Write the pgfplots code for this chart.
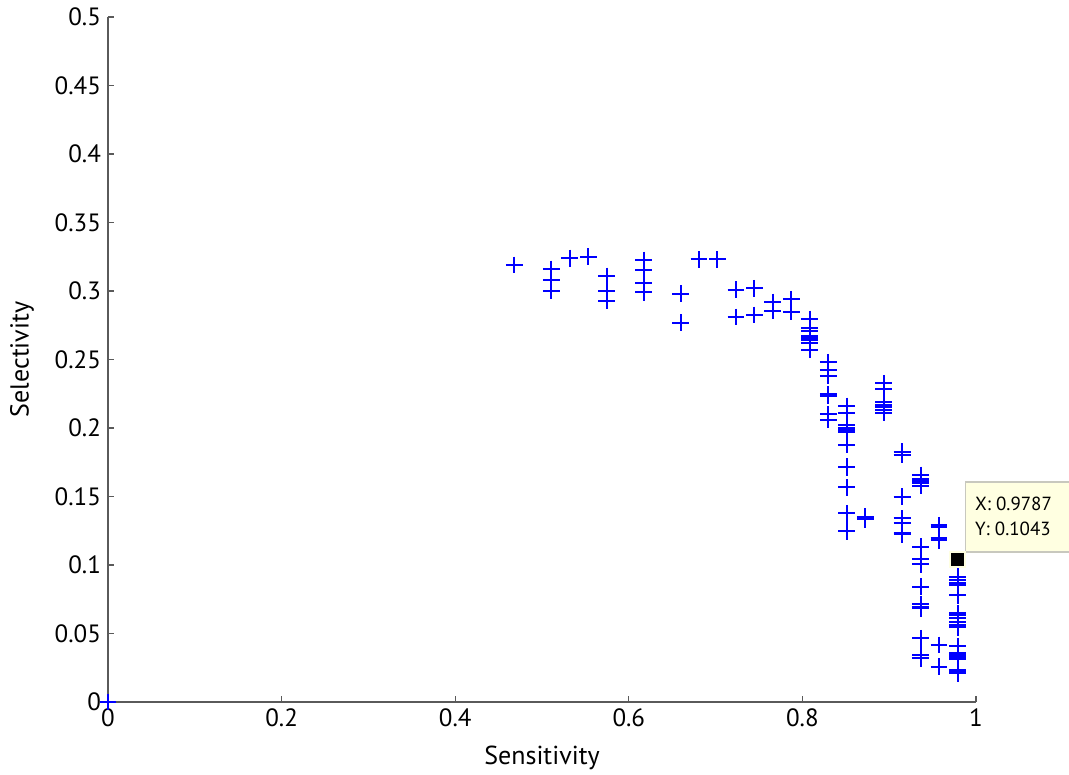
\documentclass[border=0pt]{standalone}
\usepackage{pgfplots}
\pgfplotsset{compat=1.18}
\usepackage{fontspec}
\setmainfont{PT Sans}
\definecolor{axgray}{RGB}{90,90,90}
\definecolor{tipbg}{RGB}{255,255,225}
\definecolor{tipborder}{RGB}{200,200,190}
\definecolor{mblue}{RGB}{0,0,255}
\begin{document}
\begin{tikzpicture}
\begin{axis}[
  scale only axis,
  width=434pt, height=342.5pt,
  xmin=0, xmax=1, ymin=0, ymax=0.5,
  axis x line*=bottom, axis y line*=left,
  axis line style={axgray, line width=0.6pt},
  tick style={axgray, line width=0.6pt},
  tick align=inside,
  major tick length=3pt,
  xtick={0,0.2,0.4,0.6,0.8,1},
  ytick={0,0.05,0.1,0.15,0.2,0.25,0.3,0.35,0.4,0.45,0.5},
  yticklabels={0,0.05,0.1,0.15,0.2,0.25,0.3,0.35,0.4,0.45,0.5},
  xticklabels={0,0.2,0.4,0.6,0.8,1},
  ticklabel style={font=\fontsize{12.5}{14}\selectfont, text=black},
  xlabel={Sensitivity}, ylabel={Selectivity},
  label style={font=\fontsize{13}{15}\selectfont},
  xlabel style={at={(axis description cs:0.5,0)}, anchor=center, yshift=-28pt},
  ylabel style={at={(axis description cs:0,0.5)}, anchor=center, rotate=0, yshift=43pt},
  clip=false,
]
\addplot[only marks, mark=+, mark size=4.2pt, draw=mblue, mark options={draw=mblue, line width=1pt}] coordinates {
(0,0)
(0.4681,0.319)
(0.5106,0.316) (0.5106,0.308) (0.5106,0.300)
(0.5319,0.324)
(0.5532,0.325)
(0.5745,0.311) (0.5745,0.300) (0.5745,0.293)
(0.6170,0.3226) (0.6170,0.3153) (0.6170,0.3056) (0.6170,0.299)
(0.6596,0.298) (0.6596,0.277)
(0.6809,0.323)
(0.7021,0.323)
(0.7234,0.301) (0.7234,0.281)
(0.7447,0.302) (0.7447,0.2825)
(0.7660,0.292) (0.7660,0.2856)
(0.7872,0.294) (0.7872,0.285)
(0.8085,0.2796) (0.8085,0.2727) (0.8085,0.271) (0.8085,0.267) (0.8085,0.2655) (0.8085,0.264) (0.8085,0.262) (0.8085,0.257)
(0.8298,0.248) (0.8298,0.242) (0.8298,0.238) (0.8298,0.2246) (0.8298,0.2236) (0.8298,0.21) (0.8298,0.206)
(0.8511,0.216) (0.8511,0.2112) (0.8511,0.2022) (0.8511,0.200) (0.8511,0.1985) (0.8511,0.197) (0.8511,0.1876) (0.8511,0.1718) (0.8511,0.1713) (0.8511,0.1567) (0.8511,0.1377) (0.8511,0.125) (0.8511,0.1245)
(0.8723,0.1353) (0.8723,0.1333)
(0.8936,0.2326) (0.8936,0.2282) (0.8936,0.219) (0.8936,0.2168) (0.8936,0.215) (0.8936,0.213) (0.8936,0.211)
(0.9149,0.1827) (0.9149,0.1803) (0.9149,0.1499) (0.9149,0.134) (0.9149,0.1304) (0.9149,0.123) (0.9149,0.1225)
(0.9362,0.1657) (0.9362,0.1628) (0.9362,0.161) (0.9362,0.160) (0.9362,0.158) (0.9362,0.1134) (0.9362,0.1042) (0.9362,0.1005) (0.9362,0.0842) (0.9362,0.0713) (0.9362,0.0696) (0.9362,0.0684) (0.9362,0.0465) (0.9362,0.0343) (0.9362,0.0319)
(0.9574,0.129) (0.9574,0.1275) (0.9574,0.1195) (0.9574,0.118) (0.9574,0.0416) (0.9574,0.0258)
(0.9787,0.0915) (0.9787,0.089) (0.9787,0.087) (0.9787,0.0854) (0.9787,0.078) (0.9787,0.065) (0.9787,0.0635) (0.9787,0.061) (0.9787,0.0586) (0.9787,0.0562) (0.9787,0.0545) (0.9787,0.0409) (0.9787,0.0355) (0.9787,0.0343) (0.9787,0.0326) (0.9787,0.0311) (0.9787,0.0234) (0.9787,0.0221) (0.9787,0.0209)
};
% data tip box
\draw[tipborder, fill=tipbg, line width=0.6pt] (axis cs:0.988,0.1095) rectangle (axis cs:1.12,0.1606);
\node[anchor=west, font=\fontsize{9.5}{11.5}\selectfont, align=left, inner sep=0pt] at (axis cs:0.9985,0.1355) {X: 0.9787\\[1pt]Y: 0.1043};
\addplot[only marks, mark=square*, mark size=3.7pt, mark options={fill=black, draw=tipbg, line width=1pt}] coordinates {(0.9787,0.1043)};
\end{axis}
\pgfresetboundingbox
\useasboundingbox (-54pt,-36.5pt) rectangle (480.5pt,351pt);
\end{tikzpicture}
\end{document}
